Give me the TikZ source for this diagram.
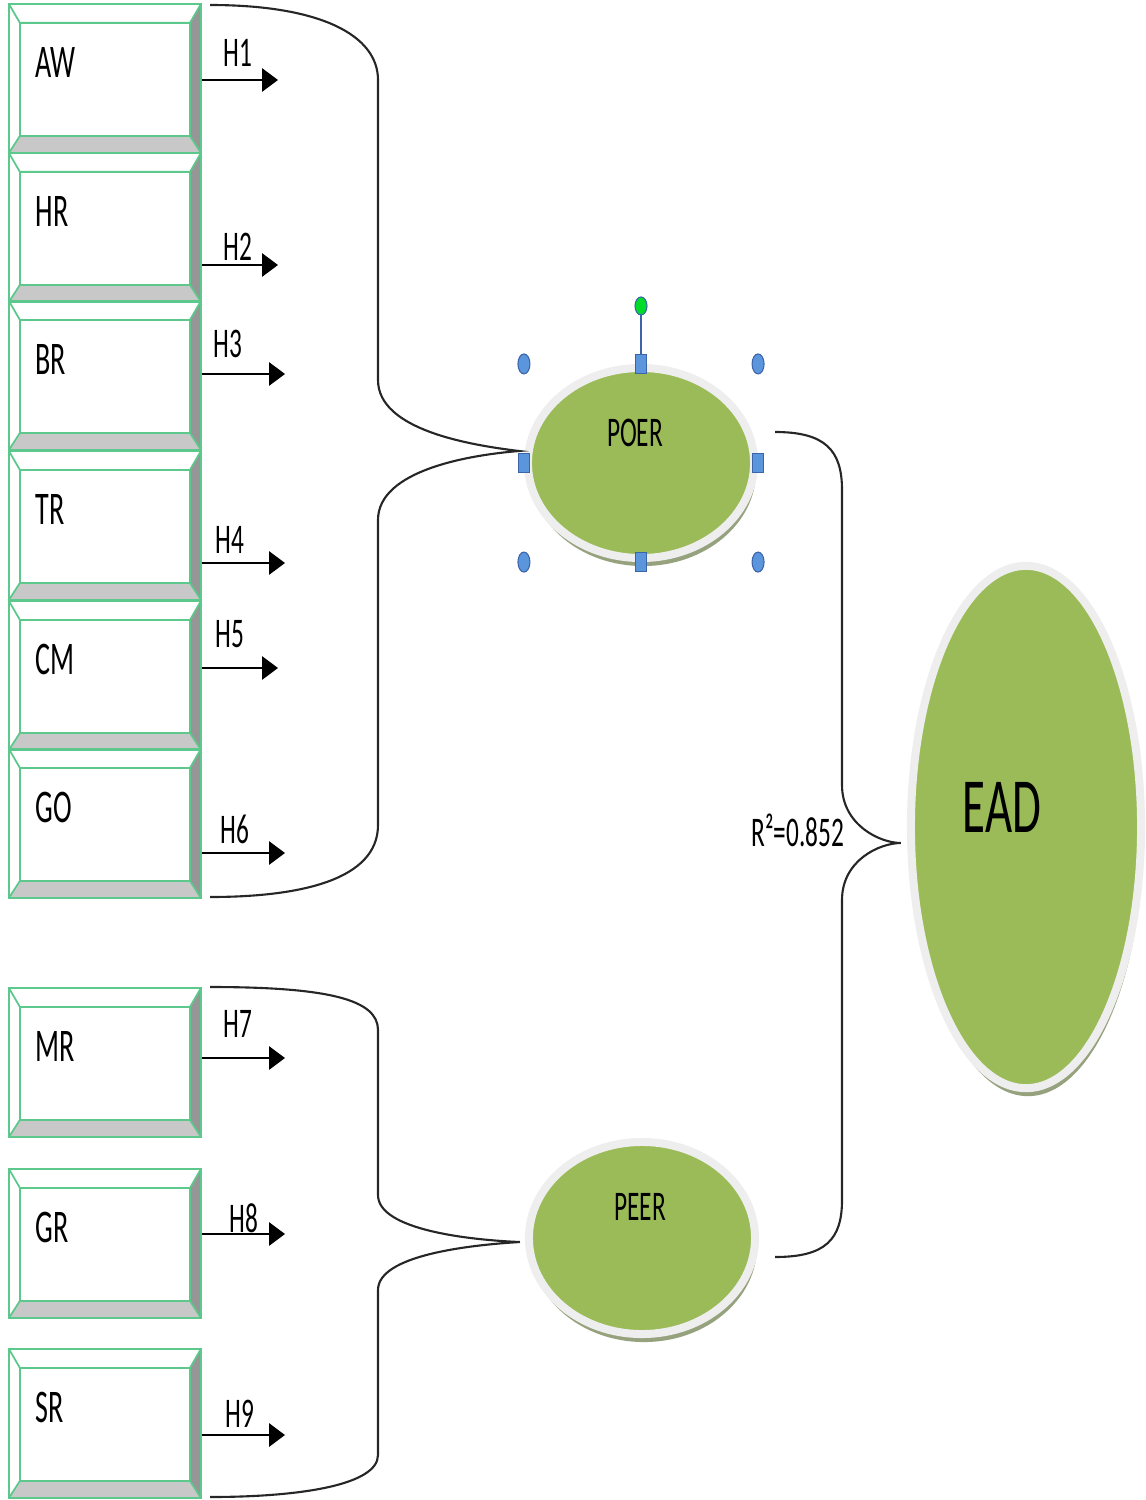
\documentclass[tikz,border=0pt]{standalone}
\usepackage{fontspec}
\newfontfamily\calfont[FakeStretch=0.6]{Carlito}
\usetikzlibrary{positioning,calc,shapes.geometric,shadows,arrows.meta}

\definecolor{boxgreen}{RGB}{92,200,140}
\definecolor{bevellight}{RGB}{200,200,200}
\definecolor{beveldark}{RGB}{150,150,150}
\definecolor{olivegreen}{RGB}{155,187,89}
\definecolor{ringgray}{RGB}{238,238,238}
\definecolor{shadowolive}{RGB}{150,162,125}
\definecolor{handleblue}{RGB}{91,150,220}
\definecolor{handleedge}{RGB}{60,100,170}
\definecolor{handlegreen}{RGB}{0,220,40}

\begin{document}
\begin{tikzpicture}[x=0.01cm,y=-0.01cm,
  font=\calfont,
  bevelbox/.style={draw=boxgreen,line width=0.5pt,inner sep=0,
    minimum width=1.92cm,minimum height=1.49cm,
    path picture={
      \path (path picture bounding box.north west) coordinate (pa)
            (path picture bounding box.north east) coordinate (pb)
            (path picture bounding box.south east) coordinate (pc)
            (path picture bounding box.south west) coordinate (pd);
      \path ($(pa)+(11,19)$) coordinate (qa) ($(pb)+(-11,19)$) coordinate (qb)
            ($(pc)+(-11,-17)$) coordinate (qc) ($(pd)+(11,-17)$) coordinate (qd);
      \fill[bevellight] (pd) -- (pc) -- (qc) -- (qd) -- cycle;
      \fill[beveldark] (pc) -- (pb) -- (qb) -- (qc) -- cycle;
      \draw[boxgreen,line width=0.5pt] (qa) rectangle (qc)
            (pa) -- (qa) (pb) -- (qb) (pc) -- (qc) (pd) -- (qd);}},
  boxtext/.style={inner sep=0,anchor=west,font=\calfont\fontsize{13.3}{15}\selectfont},
  hyptext/.style={inner sep=0,font=\calfont\fontsize{12}{14}\selectfont},
  hyp/.style={line width=0.8pt,-{Triangle[length=4.5pt,width=6.5pt]}},
  construct/.style={ellipse,fill=olivegreen,draw=ringgray,line width=0.08cm,inner sep=0,
    drop shadow={shadow xshift=0.02cm,shadow yshift=-0.08cm,fill=shadowolive,opacity=1}},
  brace/.style={line width=0.6pt,black!85},
  handlesq/.style={rectangle,fill=handleblue,draw=handleedge,line width=0.3pt,
    minimum width=0.11cm,minimum height=0.19cm,inner sep=0},
  handledot/.style={ellipse,fill=handleblue,draw=handleedge,line width=0.3pt,
    minimum width=0.12cm,minimum height=0.2cm,inner sep=0},
  handlerot/.style={ellipse,fill=handlegreen,draw=handleedge,line width=0.3pt,
    minimum width=0.12cm,minimum height=0.18cm,inner sep=0}]

\useasboundingbox (0,0) rectangle (1146,1500);

%indicator boxes
  \foreach \name/\top/\txt in {aw/3/AW,hr/152/HR,br/300/BR,tr/450/TR,cm/600/CM,go/748/GO,
                               mr/987/MR,gr/1168/GR,sr/1348/SR} {
    \node[bevelbox,anchor=north west] (\name) at (8,\top) {};
    \node[boxtext] (\name-t) at ($(\name.north west)+(27,59)$) {\txt}; }

%hypothesis arrows
  \foreach \n/\src/\xe/\y/\lx/\ly in {1/aw/278/80/238/53,2/hr/278/265/238/247,3/br/285/374/228/344,
                                      4/tr/285/563/230/540,5/cm/278/668/230/634,6/go/285/853/235/829,
                                      7/mr/285/1058/238/1024,8/gr/285/1234/244/1218,9/sr/285/1435/240/1414} {
    \coordinate (h\n) at (\xe,\y);
    \draw[hyp] (\src.east |- h\n) -- (h\n);
    \node[hyptext] (h\n-t) at (\lx,\ly) {H\n}; }

%constructs
  \node[construct,minimum width=2.26cm,minimum height=1.90cm] (poer) at (641,463) {};
  \node[construct,minimum width=2.26cm,minimum height=1.92cm] (peer) at (642,1238) {};
  \node[construct,minimum width=2.30cm,minimum height=5.22cm] (ead) at (1026,827) {};
  \node[hyptext] (poer-t) at (635,433) {POER};
  \node[hyptext] (peer-t) at (640,1207) {PEER};
  \node[inner sep=0,font=\calfont\fontsize{22.2}{24}\selectfont] (ead-t) at (1002,807) {EAD};
  \node[hyptext] (rsq) at (798,830) {R²=0.852};

%braces
  \coordinate (poer-in) at ([shift={(-5,-12)}]poer.west);
  \coordinate (peer-in) at ([shift={(-5,4)}]peer.west);
  \coordinate (ead-in) at ([shift={(-6,16)}]ead.west);
  \draw[brace] (210,5) .. controls (320,5) and (378,35) .. (378,80) -- (378,380)
    .. controls (378,430) and (470,445) .. (poer-in)
    .. controls (470,455) and (378,470) .. (378,520) -- (378,825)
    .. controls (378,880) and (300,897) .. (210,897);
  \draw[brace] (210,987) .. controls (330,987) and (378,1000) .. (378,1030) -- (378,1195)
    .. controls (378,1230) and (470,1240) .. (peer-in)
    .. controls (470,1245) and (378,1255) .. (378,1290) -- (378,1455)
    .. controls (378,1485) and (300,1497) .. (210,1497);
  \draw[brace] (775,432) .. controls (825,432) and (842,450) .. (842,490) -- (842,785)
    .. controls (842,825) and (880,843) .. (ead-in)
    .. controls (880,843) and (842,860) .. (842,900) -- (842,1200)
    .. controls (842,1240) and (825,1257) .. (775,1257);

%selection handles
  \foreach \a in {west,east,north,south}
    \node[handlesq] (sel-\a) at (poer.\a) {};
  \foreach \v in {north,south}
    \foreach \h in {west,east}
      \node[handledot] (sel-\v\h) at (poer.\h |- poer.\v) {};
  \node[handlerot] (sel-rot) at ($(poer.north)+(0,-58)$) {};
  \draw[handleedge,line width=0.5pt] (sel-north) -- (sel-rot);

\end{tikzpicture}
\end{document}
